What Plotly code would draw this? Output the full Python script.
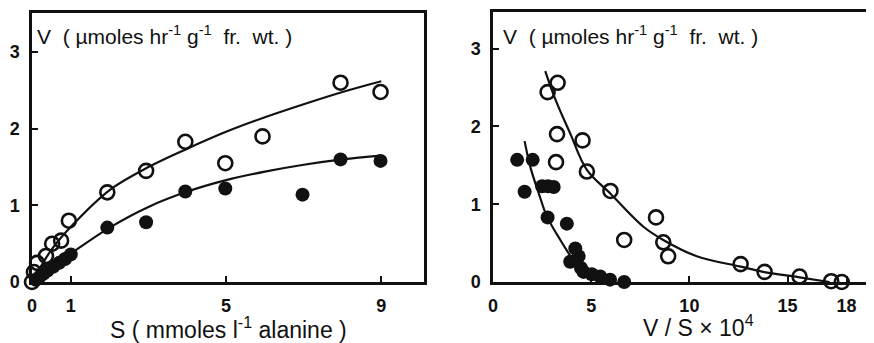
import plotly.graph_objects as go

# ---- Left panel: V vs S ----
S_open = [0.0, 0.05, 0.13, 0.36, 0.52, 0.75, 0.95, 1.94, 2.94, 3.95, 4.98, 5.94, 7.95, 8.98]
V_open = [0.0, 0.13, 0.25, 0.34, 0.5, 0.54, 0.8, 1.17, 1.45, 1.83, 1.55, 1.9, 2.6, 2.48]
S_fill = [0.1, 0.2, 0.3, 0.4, 0.55, 0.7, 0.85, 1.0, 1.94, 2.94, 3.95, 4.98, 6.97, 7.95, 8.98]
V_fill = [0.03, 0.07, 0.11, 0.15, 0.2, 0.25, 0.3, 0.36, 0.71, 0.78, 1.18, 1.22, 1.14, 1.6, 1.58]
S_curve = [0, 0.25, 0.5, 1, 2, 3, 4, 5, 6, 7, 8, 9]
V_open_curve = [0, 0.22, 0.42, 0.72, 1.2, 1.5, 1.74, 1.96, 2.15, 2.32, 2.48, 2.62]
V_fill_curve = [0, 0.1, 0.19, 0.37, 0.71, 0.98, 1.18, 1.33, 1.44, 1.53, 1.6, 1.65]
x1_ticks = [0, 1, 5, 9]

# ---- Right panel: V vs V/S x 10^4 ----
VS_open = [2.78, 3.29, 3.26, 3.21, 4.56, 4.78, 5.98, 6.68, 8.30, 8.67, 8.92, 12.61, 13.83, 15.61, 17.22, 17.76]
V2_open = [2.44, 2.56, 1.90, 1.54, 1.82, 1.42, 1.17, 0.54, 0.83, 0.51, 0.33, 0.23, 0.13, 0.07, 0.01, 0.0]
VS_fill = [1.23, 2.02, 1.61, 2.5, 2.8, 3.09, 2.78, 3.76, 4.19, 4.36, 3.93, 4.48, 4.61, 5.03, 5.46, 5.96, 6.68]
V2_fill = [1.57, 1.57, 1.16, 1.23, 1.23, 1.22, 0.83, 0.75, 0.43, 0.33, 0.26, 0.18, 0.13, 0.10, 0.07, 0.03, 0.0]
VS_open_curve = [2.66, 3.17, 3.93, 4.78, 5.96, 7.66, 8.67, 10.38, 12.56, 13.75, 15.61, 17.13]
V2_open_curve = [2.71, 2.35, 1.91, 1.44, 1.14, 0.71, 0.54, 0.33, 0.2, 0.13, 0.06, 0.0]
VS_fill_curve = [1.61, 1.90, 2.33, 2.75, 3.43, 4.10, 4.78, 5.46, 5.96]
V2_fill_curve = [1.81, 1.48, 1.14, 0.84, 0.54, 0.28, 0.11, 0.03, 0.0]
x2_ticks = [0, 5, 10, 15, 18]
y_ticks = [0, 1, 2, 3]

W, H = 874, 343
OFF = 8  # page body margin offset
FONT = "Liberation Sans, Arial, sans-serif"
INK = "#111111"

def px(x):
    return (x - OFF) / W

def py(y):
    return 1 - (y - OFF) / H

fig = go.Figure()

open_marker = dict(symbol="circle-open", size=14, color=INK, line=dict(width=2.6, color=INK))
fill_marker = dict(symbol="circle", size=14, color=INK)
curve_line = dict(color=INK, width=2.2, shape="spline")

# left
fig.add_trace(go.Scatter(x=S_curve, y=V_open_curve, mode="lines", line=curve_line,
                         xaxis="x", yaxis="y", showlegend=False, cliponaxis=False))
fig.add_trace(go.Scatter(x=S_curve, y=V_fill_curve, mode="lines", line=curve_line,
                         xaxis="x", yaxis="y", showlegend=False, cliponaxis=False))
fig.add_trace(go.Scatter(x=S_open, y=V_open, mode="markers", marker=open_marker,
                         xaxis="x", yaxis="y", showlegend=False, cliponaxis=False))
fig.add_trace(go.Scatter(x=S_fill, y=V_fill, mode="markers", marker=fill_marker,
                         xaxis="x", yaxis="y", showlegend=False, cliponaxis=False))
# right
fig.add_trace(go.Scatter(x=VS_open_curve, y=V2_open_curve, mode="lines", line=curve_line,
                         xaxis="x2", yaxis="y2", showlegend=False, cliponaxis=False))
fig.add_trace(go.Scatter(x=VS_fill_curve, y=V2_fill_curve, mode="lines", line=curve_line,
                         xaxis="x2", yaxis="y2", showlegend=False, cliponaxis=False))
fig.add_trace(go.Scatter(x=VS_open, y=V2_open, mode="markers", marker=open_marker,
                         xaxis="x2", yaxis="y2", showlegend=False, cliponaxis=False))
fig.add_trace(go.Scatter(x=VS_fill, y=V2_fill, mode="markers", marker=fill_marker,
                         xaxis="x2", yaxis="y2", showlegend=False, cliponaxis=False))

tickfont = dict(family=FONT, size=18, color=INK)
common = dict(showgrid=False, zeroline=False, showline=True, linecolor=INK, linewidth=2.5,
              ticks="inside", ticklen=6, tickwidth=2, tickcolor=INK, tickfont=tickfont,
              automargin=False, ticklabelstandoff=6)

fig.update_layout(
    width=W, height=H,
    margin=dict(l=0, r=0, t=0, b=0, autoexpand=False),
    paper_bgcolor="white", plot_bgcolor="white",
    xaxis=dict(domain=[px(32), px(424)], range=[0, 10.1], tickvals=x1_ticks,
               ticktext=["<b>%d</b>" % v for v in x1_ticks], mirror=True, anchor="y", **common),
    yaxis=dict(domain=[py(282), py(13)], range=[0, 3.51], tickvals=y_ticks,
               ticktext=["<b>%d</b>" % v for v in y_ticks], mirror=True, anchor="x", **common),
    xaxis2=dict(domain=[px(493), px(874)], range=[0, 19.4], tickvals=x2_ticks,
                ticktext=["<b>%d</b>" % v for v in x2_ticks], mirror=True, anchor="y2", **common),
    yaxis2=dict(domain=[py(282), py(12)], range=[0, 3.47], tickvals=y_ticks,
                ticktext=["<b>%d</b>" % v for v in y_ticks], mirror=False, anchor="x2", **common),
)

NB = "\u00a0"
ytitle = "V" + NB + NB + "( µmoles hr<sup>-1</sup> g<sup>-1</sup>" + NB + NB + "fr." + NB + " wt. )"
ytitle_font = dict(family=FONT, size=21, color=INK)
xtitle_font = dict(family=FONT, size=23, color=INK)
fig.add_annotation(text=ytitle, x=px(35), y=py(35), xref="paper", yref="paper",
                   xanchor="left", yanchor="middle", showarrow=False, font=ytitle_font)
fig.add_annotation(text=ytitle, x=px(501), y=py(35), xref="paper", yref="paper",
                   xanchor="left", yanchor="middle", showarrow=False, font=ytitle_font)
fig.add_annotation(text="S ( mmoles l<sup>-1</sup> alanine )", x=px(228), y=py(328), xref="paper", yref="paper",
                   xanchor="center", yanchor="middle", showarrow=False, font=xtitle_font)
fig.add_annotation(text="V / S × 10<sup>4</sup>", x=px(698), y=py(326), xref="paper", yref="paper",
                   xanchor="center", yanchor="middle", showarrow=False, font=xtitle_font)

fig.write_html("out.html")
